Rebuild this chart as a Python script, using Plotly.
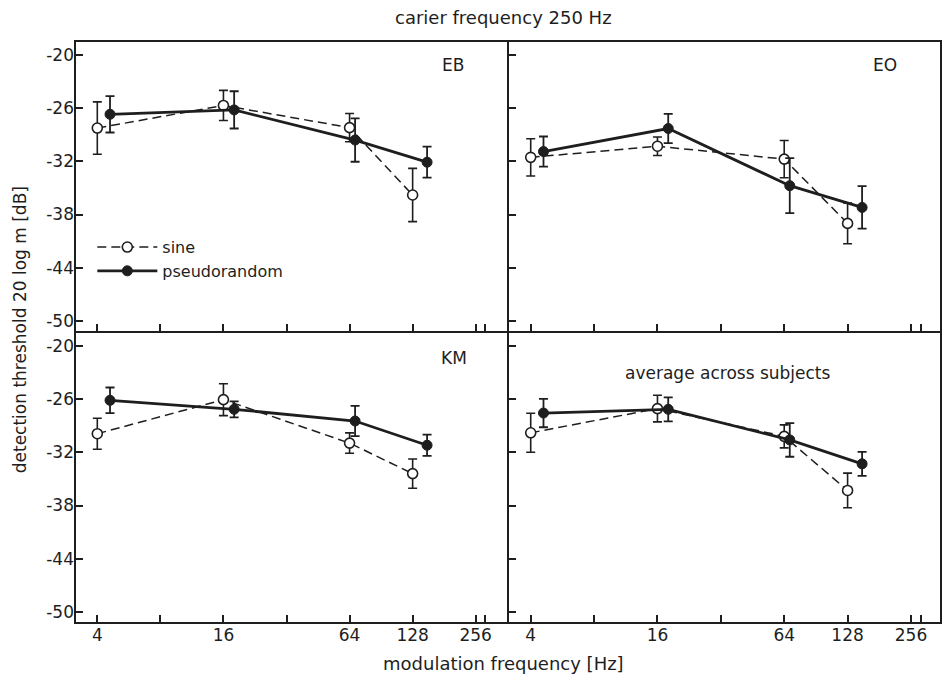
import plotly.graph_objects as go
from plotly.subplots import make_subplots

# modulation frequencies (Hz): sine AM and pseudorandom-noise modulation
freq_sine = [4, 16, 64, 128]
freq_pseudo = [4.6, 18, 68, 150]

panels = ["EB", "EO", "KM", "average across subjects"]

# detection thresholds (dB) and error-bar half-widths, per panel
sine_eb = [-28.25, -25.7, -28.2, -35.8]
sine_eb_err = [2.95, 1.7, 1.6, 3.0]
pseudo_eb = [-26.7, -26.2, -29.6, -32.1]
pseudo_eb_err = [2.05, 2.1, 2.45, 1.75]

sine_eo = [-31.55, -30.3, -31.75, -39.0]
sine_eo_err = [2.1, 1.05, 2.1, 2.3]
pseudo_eo = [-30.9, -28.3, -34.75, -37.2]
pseudo_eo_err = [1.7, 1.65, 3.1, 2.4]

sine_km = [-29.9, -26.06, -30.96, -34.4]
sine_km_err = [1.75, 1.8, 1.15, 1.65]
pseudo_km = [-26.14, -27.15, -28.47, -31.2]
pseudo_km_err = [1.45, 0.9, 1.7, 1.2]

sine_avg = [-29.8, -27.07, -30.2, -36.3]
sine_avg_err = [2.2, 1.5, 1.3, 1.95]
pseudo_avg = [-27.57, -27.15, -30.6, -33.3]
pseudo_avg_err = [1.6, 1.35, 1.9, 1.35]

x_tickvals = [4, 8, 16, 32, 64, 128, 256, 285]
x_ticktext = ["4", "", "16", "", "64", "128", "256", ""]
y_tickvals = [-20, -26, -32, -38, -44, -50]

FONT = "DejaVu Sans"
INK = "#1e1e1e"

data = [
    (sine_eb, sine_eb_err, pseudo_eb, pseudo_eb_err),
    (sine_eo, sine_eo_err, pseudo_eo, pseudo_eo_err),
    (sine_km, sine_km_err, pseudo_km, pseudo_km_err),
    (sine_avg, sine_avg_err, pseudo_avg, pseudo_avg_err),
]

fig = make_subplots(rows=2, cols=2, horizontal_spacing=0, vertical_spacing=0)

positions = [(1, 1), (1, 2), (2, 1), (2, 2)]
for i, ((row, col), (s, se, p, pe)) in enumerate(zip(positions, data)):
    first = i == 0
    fig.add_trace(go.Scatter(
        x=freq_sine, y=s, name="sine", mode="lines+markers",
        line=dict(color=INK, width=1.5, dash="9px,5px"),
        marker=dict(symbol="circle", size=10, color="white",
                    line=dict(color=INK, width=1.6)),
        error_y=dict(type="data", array=se, visible=True,
                     color=INK, thickness=1.6, width=4.5),
        showlegend=first, legendrank=1,
    ), row=row, col=col)
    fig.add_trace(go.Scatter(
        x=freq_pseudo, y=p, name="pseudorandom", mode="lines+markers",
        line=dict(color=INK, width=2.8),
        marker=dict(symbol="circle", size=10, color=INK,
                    line=dict(color=INK, width=1)),
        error_y=dict(type="data", array=pe, visible=True,
                     color=INK, thickness=1.8, width=4.5),
        showlegend=first, legendrank=2,
    ), row=row, col=col)

x_ranges = {1: [0.4956, 2.5624], 2: [0.4942, 2.5509]}
for (row, col) in positions:
    fig.update_xaxes(
        type="log", range=x_ranges[col],
        tickvals=x_tickvals, ticktext=x_ticktext,
        showticklabels=(row == 2),
        ticks="inside", ticklen=8, tickwidth=1.5, tickcolor=INK,
        showline=False, showgrid=False, zeroline=False,
        tickfont=dict(family=FONT, size=17, color=INK),
        row=row, col=col,
    )
    fig.update_yaxes(
        range=[-51.25, -18.43],
        tickvals=y_tickvals, ticktext=[str(v) for v in y_tickvals],
        showticklabels=(col == 1),
        ticks="inside", ticklen=8, tickwidth=1.5, tickcolor=INK,
        showline=False, showgrid=False, zeroline=False,
        tickfont=dict(family=FONT, size=17, color=INK),
        row=row, col=col,
    )

# outer frame and the two dividers between panels
frame = dict(type="line", xref="paper", yref="paper",
             line=dict(color=INK, width=2))
fig.add_shape(type="rect", xref="paper", yref="paper", x0=0, y0=0, x1=1, y1=1,
              line=dict(color=INK, width=2), fillcolor="rgba(0,0,0,0)")
fig.add_shape(**frame, x0=0.5, x1=0.5, y0=0, y1=1)
fig.add_shape(**frame, x0=0, x1=1, y0=0.5, y1=0.5)

# panel labels
label_pos = [(0.4366, 0.9588), (0.9357, 0.9588), (0.4378, 0.4558), (0.7543, 0.4296)]
for text, (lx, ly) in zip(panels, label_pos):
    fig.add_annotation(x=lx, y=ly, xref="paper", yref="paper", text=text,
                       showarrow=False, xanchor="center", yanchor="middle",
                       font=dict(family=FONT, size=17, color=INK))

# figure and axis titles
fig.add_annotation(x=0.4944, y=1.0412, xref="paper", yref="paper",
                   text="carier frequency 250 Hz", showarrow=False,
                   xanchor="center", yanchor="middle",
                   font=dict(family=FONT, size=18, color=INK))
fig.add_annotation(x=0.4944, y=-0.0704, xref="paper", yref="paper",
                   text="modulation frequency [Hz]", showarrow=False,
                   xanchor="center", yanchor="middle",
                   font=dict(family=FONT, size=18, color=INK))
fig.add_annotation(x=-0.0635, y=0.503, xref="paper", yref="paper",
                   text="detection threshold 20 log m [dB]", showarrow=False,
                   textangle=-90, xanchor="center", yanchor="middle",
                   font=dict(family=FONT, size=17, color=INK))

fig.update_layout(
    width=943, height=684,
    margin=dict(l=75, r=2, t=41, b=61),
    paper_bgcolor="white", plot_bgcolor="white",
    legend=dict(x=0.02, y=0.675, xanchor="left", yanchor="top",
                bgcolor="rgba(0,0,0,0)", itemwidth=60,
                font=dict(family=FONT, size=16, color=INK),
                tracegroupgap=2),
)

fig.write_html("out.html")
